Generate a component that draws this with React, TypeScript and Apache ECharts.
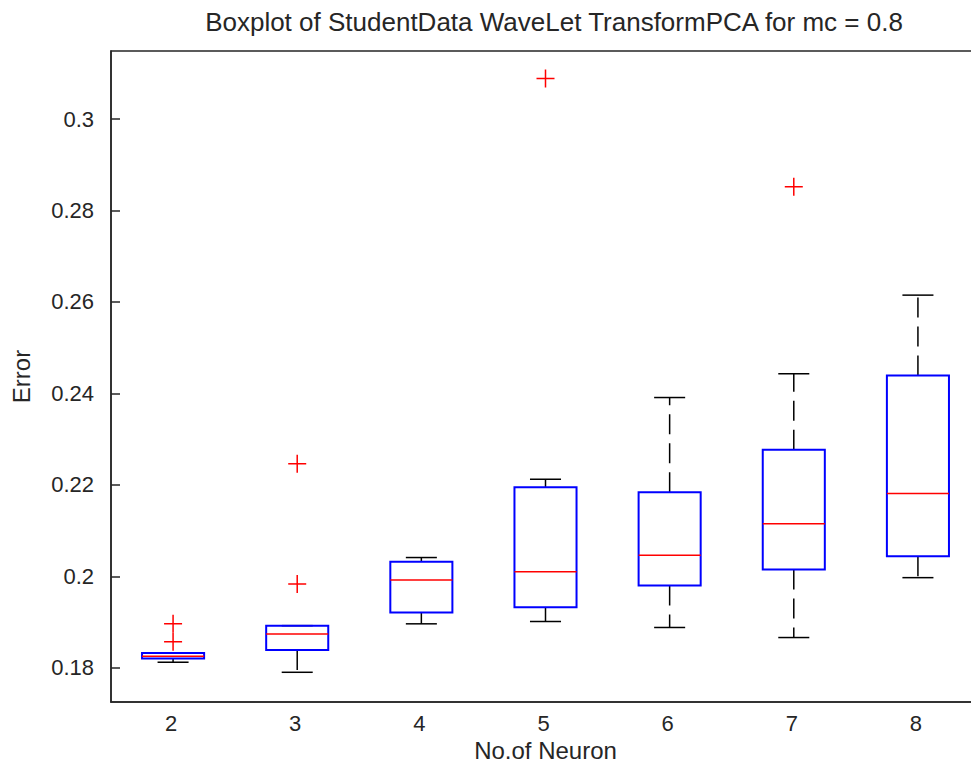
import React, { useEffect, useRef } from "react";
import * as echarts from "echarts";

const categories = ["2", "3", "4", "5", "6", "7", "8"];
const lowerWhisker = [0.1812, 0.179, 0.1896, 0.1901, 0.1888, 0.1866, 0.1997];
const q1 = [0.182, 0.1839, 0.1921, 0.1932, 0.198, 0.2015, 0.2044];
const median = [0.1825, 0.1874, 0.1992, 0.201, 0.2046, 0.2115, 0.2181];
const q3 = [0.1832, 0.1892, 0.2032, 0.2195, 0.2184, 0.2277, 0.2439];
const upperWhisker = [0.1832, 0.1892, 0.2041, 0.2212, 0.2391, 0.2443, 0.2615];
const outlierCategory = ["2", "2", "3", "3", "5", "7"];
const outlierValue = [0.1896, 0.1857, 0.2246, 0.1983, 0.3089, 0.2852];
const yTicks = [0.18, 0.2, 0.22, 0.24, 0.26, 0.28, 0.3];
const yMin = 0.1725;
const yMax = 0.3149;

const FONT = "'Liberation Sans', Arial, sans-serif";
const AXIS_COLOR = "#262626";
const TEXT_COLOR = "#262626";

export default function App() {
  const ref = useRef<HTMLDivElement>(null);
  useEffect(() => {
    document.body.style.margin = "0";
    if (!ref.current) return;
    const chart = echarts.init(ref.current, null, { renderer: "svg" });
    const boxData = categories.map((c, i) => [
      i,
      lowerWhisker[i],
      q1[i],
      median[i],
      q3[i],
      upperWhisker[i],
    ]);
    const option: any = {
      animation: false,
      backgroundColor: "#ffffff",
      title: {
        text: "Boxplot of StudentData WaveLet TransformPCA for mc = 0.8",
        left: 549,
        top: 4,
        textAlign: "center",
        textStyle: {
          fontFamily: FONT,
          fontSize: 26,
          fontWeight: "normal",
          color: TEXT_COLOR,
        },
      },
      grid: {
        left: 111,
        top: 51,
        width: 869,
        height: 651,
        outerBoundsMode: "none",
        containLabel: false,
        show: true,
        borderColor: AXIS_COLOR,
        borderWidth: 1.5,
        backgroundColor: "transparent",
      },
      xAxis: {
        type: "category",
        data: categories,
        boundaryGap: true,
        name: "No.of Neuron",
        nameLocation: "middle",
        nameGap: 35,
        nameTextStyle: { fontFamily: FONT, fontSize: 24, color: TEXT_COLOR },
        axisLine: { show: true, lineStyle: { color: AXIS_COLOR, width: 1.5 } },
        axisTick: { show: false },
        axisLabel: {
          fontFamily: FONT,
          fontSize: 22,
          color: TEXT_COLOR,
          margin: 10,
          padding: [0, 4, 0, 0],
        },
        splitLine: { show: false },
      },
      yAxis: [
        {
          type: "value",
          min: yMin,
          max: yMax,
          name: "Error",
          nameLocation: "middle",
          nameGap: 78,
          nameRotate: 90,
          nameTextStyle: { fontFamily: FONT, fontSize: 24, color: TEXT_COLOR },
          axisLine: { show: true, lineStyle: { color: AXIS_COLOR, width: 1.5 } },
          axisTick: {
            show: true,
            inside: true,
            length: 9,
            customValues: yTicks,
            lineStyle: { color: AXIS_COLOR, width: 1.5 },
          },
          axisLabel: {
            customValues: yTicks,
            fontFamily: FONT,
            fontSize: 22,
            color: TEXT_COLOR,
            margin: 17,
            formatter: (v: number) => String(parseFloat(v.toFixed(4))),
          },
          splitLine: { show: false },
        },
        {
          type: "value",
          position: "right",
          min: yMin,
          max: yMax,
          axisLine: { show: true, lineStyle: { color: AXIS_COLOR, width: 1.5 } },
          axisTick: {
            show: true,
            inside: true,
            length: 9,
            customValues: yTicks,
            lineStyle: { color: AXIS_COLOR, width: 1.5 },
          },
          axisLabel: { show: false },
          splitLine: { show: false },
        },
      ],
      series: [
        {
          type: "custom",
          data: boxData,
          encode: { x: 0, y: [1, 2, 3, 4, 5] },
          renderItem: (params: any, api: any) => {
            const idx = api.value(0);
            const pLow = api.coord([idx, api.value(1)]);
            const pQ1 = api.coord([idx, api.value(2)]);
            const pMed = api.coord([idx, api.value(3)]);
            const pQ3 = api.coord([idx, api.value(4)]);
            const pUp = api.coord([idx, api.value(5)]);
            const band = api.size([1, 0])[0];
            const cx = pMed[0];
            const hb = band * 0.25;
            const hc = band * 0.125;
            const whiskerStyle = {
              stroke: "#000000",
              lineWidth: 1.5,
              lineDash: [20, 9],
            };
            const capStyle = { stroke: "#000000", lineWidth: 1.5 };
            return {
              type: "group",
              children: [
                {
                  type: "line",
                  shape: { x1: cx, y1: pQ3[1], x2: cx, y2: pUp[1] },
                  style: whiskerStyle,
                },
                {
                  type: "line",
                  shape: { x1: cx, y1: pQ1[1], x2: cx, y2: pLow[1] },
                  style: whiskerStyle,
                },
                {
                  type: "line",
                  shape: { x1: cx - hc, y1: pUp[1], x2: cx + hc, y2: pUp[1] },
                  style: capStyle,
                },
                {
                  type: "line",
                  shape: { x1: cx - hc, y1: pLow[1], x2: cx + hc, y2: pLow[1] },
                  style: capStyle,
                },
                {
                  type: "rect",
                  shape: {
                    x: cx - hb,
                    y: pQ3[1],
                    width: hb * 2,
                    height: pQ1[1] - pQ3[1],
                  },
                  style: { fill: "none", stroke: "#0000ff", lineWidth: 2 },
                },
                {
                  type: "line",
                  shape: { x1: cx - hb, y1: pMed[1], x2: cx + hb, y2: pMed[1] },
                  style: { stroke: "#ff0000", lineWidth: 1.5 },
                },
              ],
            };
          },
        },
        {
          type: "scatter",
          data: outlierCategory.map((c, i) => [c, outlierValue[i]]),
          symbol: "path://M0,9L18,9M9,0L9,18",
          symbolSize: 18,
          symbolKeepAspect: true,
          itemStyle: {
            color: "none",
            borderColor: "#ff0000",
            borderWidth: 1.5,
            opacity: 1,
          },
        },
      ],
    };
    chart.setOption(option);
    return () => {
      chart.dispose();
    };
  }, []);
  return (
    <div
      style={{
        position: "absolute",
        left: 0,
        top: 0,
        width: 971,
        height: 765,
        overflow: "hidden",
      }}
    >
      <div ref={ref} style={{ width: 992, height: 765 }} />
    </div>
  );
}
